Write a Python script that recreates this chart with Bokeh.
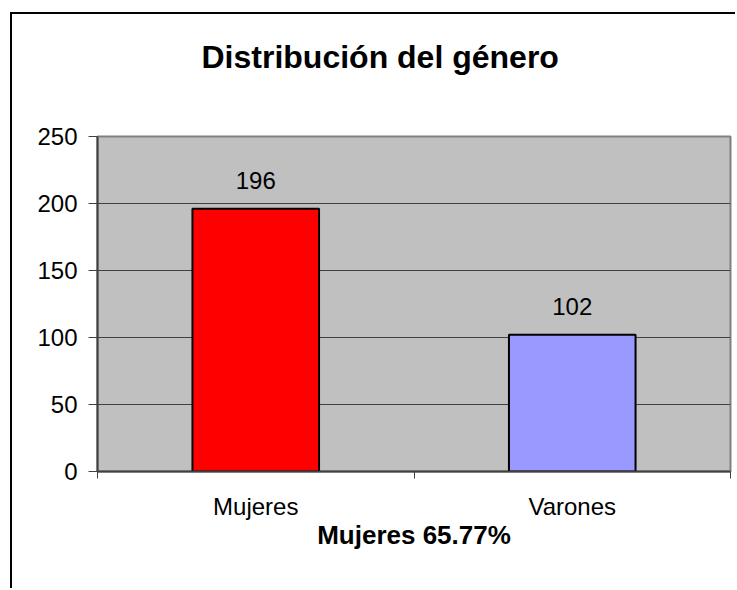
from bokeh.plotting import figure
from bokeh.models import Range1d, FixedTicker, ColumnDataSource, LabelSet, Title
from bokeh.core.properties import value
from bokeh.embed import file_html
from bokeh.resources import INLINE

# ---- data ----
categories = ["Mujeres", "Varones"]
counts = [196, 102]
bar_colors = ["#FF0000", "#9999FF"]
y_ticks = [0, 50, 100, 150, 200, 250]
title_text = "Distribución del género"
x_title = "Mujeres 65.77%"

FONT = "Liberation Sans"

pos = [i + 0.5 for i in range(len(categories))]
src = ColumnDataSource(dict(x=pos, top=counts, color=bar_colors,
                            label=[str(c) for c in counts]))

p = figure(width=725, height=576, output_backend="svg", toolbar_location=None,
           x_range=Range1d(0, len(categories)), y_range=Range1d(0, 250),
           min_border_left=85, min_border_right=7, min_border_top=122,
           min_border_bottom=119, background_fill_color="#C0C0C0",
           border_fill_color="white", outline_line_color="#808080",
           outline_line_width=2)
p.margin = (12, 0, 0, 10)
p.styles = {"border-top": "2px solid black", "border-left": "2px solid black"}

# trailing empty line makes the title box taller so the text sits higher
p.add_layout(Title(text=title_text + "\n", align="left", offset=104,
                   vertical_align="top", standoff=48,
                   text_font=FONT, text_font_size="32px", text_font_style="bold",
                   text_color="black"), "above")

p.vbar(x="x", top="top", width=0.4, bottom=0, source=src, fill_color="color",
       line_color="black", line_width=2)

p.add_layout(LabelSet(x="x", y="top", text="label", source=src, y_offset=20,
                      text_align="center", text_baseline="alphabetic",
                      text_font=value(FONT), text_font_size="24px",
                      text_color="black"))

# y axis
p.yaxis.ticker = FixedTicker(ticks=y_ticks)
p.yaxis.major_tick_out = 9
p.yaxis.major_tick_in = 0
p.yaxis.minor_tick_line_color = None
p.yaxis.axis_line_color = "#404040"
p.yaxis.axis_line_width = 2
p.yaxis.major_tick_line_color = "#404040"
p.yaxis.major_label_standoff = 11
p.yaxis.major_label_text_font = FONT
p.yaxis.major_label_text_font_size = "24px"
p.yaxis.major_label_text_color = "black"

# x axis
p.xaxis.ticker = FixedTicker(ticks=pos, minor_ticks=list(range(len(categories) + 1)))
p.xaxis.major_label_overrides = {pp: c for pp, c in zip(pos, categories)}
p.xaxis.major_tick_line_color = None
p.xaxis.minor_tick_line_color = "#404040"
p.xaxis.minor_tick_out = 7
p.xaxis.minor_tick_in = 0
p.xaxis.axis_line_color = "#404040"
p.xaxis.axis_line_width = 2
p.xaxis.major_label_standoff = 14
p.xaxis.major_label_text_font = FONT
p.xaxis.major_label_text_font_size = "24px"
p.xaxis.major_label_text_color = "black"
p.xaxis.axis_label = x_title
p.xaxis.axis_label_standoff = -3
p.xaxis.axis_label_text_font = FONT
p.xaxis.axis_label_text_font_size = "26px"
p.xaxis.axis_label_text_font_style = "bold"
p.xaxis.axis_label_text_color = "black"

p.xgrid.grid_line_color = None
p.ygrid.grid_line_color = "#404040"
p.ygrid.grid_line_width = 1

open("out.html", "w").write(file_html(p, INLINE))
